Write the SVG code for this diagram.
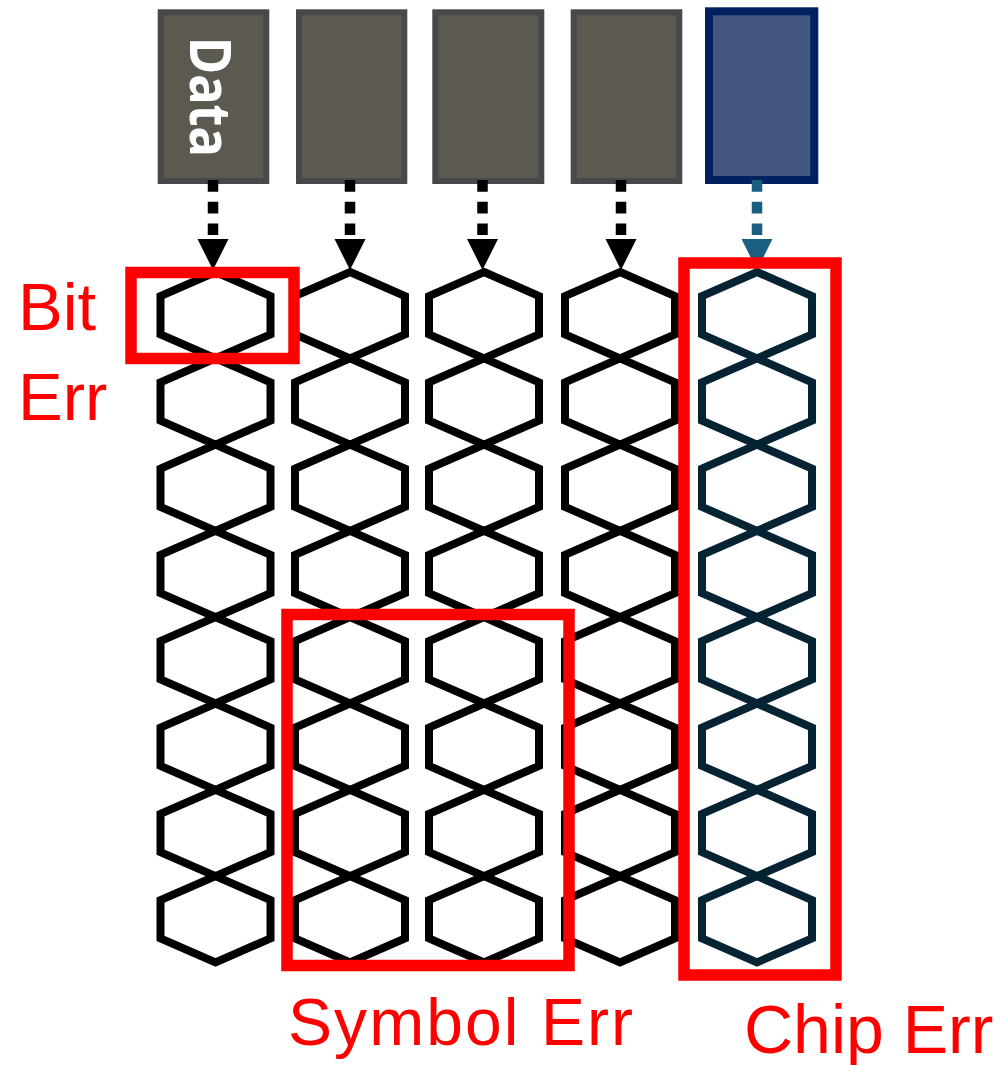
<svg xmlns="http://www.w3.org/2000/svg" xmlns:xlink="http://www.w3.org/1999/xlink" width="1005" height="1065" viewBox="0 0 1005 1065">
<style>
.box{fill:#5b5950;stroke:#484848;stroke-width:6}
.boxb{fill:#43567e;stroke:#002060;stroke-width:8}
.dash{stroke-width:10.5;stroke-dasharray:11.7 10;fill:none}
.hx{fill:none;stroke-width:8;stroke-linejoin:miter}
.err{fill:none;stroke:#ff0000;stroke-width:11.5}
.lbl{font-family:"Liberation Sans",Arial,sans-serif;fill:#ff0000}
.data{font-family:"Noto Sans","DejaVu Sans",sans-serif;font-weight:700;font-size:58px;fill:#ffffff}
</style>
<defs>
<polygon id="hex" points="0,0 55,24 55,62.3 0,86.3 -55,62.3 -55,24"/>
</defs>
<rect width="1005" height="1065" fill="#ffffff"/>
<g id="chip1"><rect class="box" x="160.7" y="12.3" width="105.6" height="168.7"/>
<text class="data" x="37" y="-190" transform="rotate(90)" textLength="120" lengthAdjust="spacingAndGlyphs">Data</text></g>
<g id="chip2"><rect class="box" x="299" y="12.3" width="105.3" height="168.7"/></g>
<g id="chip3"><rect class="box" x="435.3" y="12.3" width="106" height="168.7"/></g>
<g id="chip4"><rect class="box" x="573.7" y="12.3" width="105.6" height="168.7"/></g>
<g id="chip5"><rect class="boxb" x="709" y="11.3" width="105.3" height="168.7"/></g>
<g id="connectors">
<line class="dash" x1="213" y1="180" x2="213" y2="236" stroke="#000"/>
<polygon points="197.5,239 228.5,239 213,270" fill="#000"/>
<line class="dash" x1="350" y1="180" x2="350" y2="236" stroke="#000"/>
<polygon points="334.5,239 365.5,239 350,270" fill="#000"/>
<line class="dash" x1="482.5" y1="180" x2="482.5" y2="236" stroke="#000"/>
<polygon points="467,239 498,239 482.5,270" fill="#000"/>
<line class="dash" x1="621" y1="180" x2="621" y2="236" stroke="#000"/>
<polygon points="605.5,239 636.5,239 621,270" fill="#000"/>
<line class="dash" x1="757" y1="180" x2="757" y2="236" stroke="#1a5f80"/>
<polygon points="741.5,239 772.5,239 757,270" fill="#1a5f80"/>
</g>
<g id="col1" class="hx" stroke="#000">
<use xlink:href="#hex" href="#hex" x="215.5" y="272"/>
<use xlink:href="#hex" href="#hex" x="215.5" y="358.3"/>
<use xlink:href="#hex" href="#hex" x="215.5" y="444.6"/>
<use xlink:href="#hex" href="#hex" x="215.5" y="530.9"/>
<use xlink:href="#hex" href="#hex" x="215.5" y="617.2"/>
<use xlink:href="#hex" href="#hex" x="215.5" y="703.5"/>
<use xlink:href="#hex" href="#hex" x="215.5" y="789.8"/>
<use xlink:href="#hex" href="#hex" x="215.5" y="876.1"/>
</g>
<g id="col2" class="hx" stroke="#000">
<use xlink:href="#hex" href="#hex" x="350" y="272"/>
<use xlink:href="#hex" href="#hex" x="350" y="358.3"/>
<use xlink:href="#hex" href="#hex" x="350" y="444.6"/>
<use xlink:href="#hex" href="#hex" x="350" y="530.9"/>
<use xlink:href="#hex" href="#hex" x="350" y="617.2"/>
<use xlink:href="#hex" href="#hex" x="350" y="703.5"/>
<use xlink:href="#hex" href="#hex" x="350" y="789.8"/>
<use xlink:href="#hex" href="#hex" x="350" y="876.1"/>
</g>
<g id="col3" class="hx" stroke="#000">
<use xlink:href="#hex" href="#hex" x="484" y="272"/>
<use xlink:href="#hex" href="#hex" x="484" y="358.3"/>
<use xlink:href="#hex" href="#hex" x="484" y="444.6"/>
<use xlink:href="#hex" href="#hex" x="484" y="530.9"/>
<use xlink:href="#hex" href="#hex" x="484" y="617.2"/>
<use xlink:href="#hex" href="#hex" x="484" y="703.5"/>
<use xlink:href="#hex" href="#hex" x="484" y="789.8"/>
<use xlink:href="#hex" href="#hex" x="484" y="876.1"/>
</g>
<g id="col4" class="hx" stroke="#000">
<use xlink:href="#hex" href="#hex" x="620" y="272"/>
<use xlink:href="#hex" href="#hex" x="620" y="358.3"/>
<use xlink:href="#hex" href="#hex" x="620" y="444.6"/>
<use xlink:href="#hex" href="#hex" x="620" y="530.9"/>
<use xlink:href="#hex" href="#hex" x="620" y="617.2"/>
<use xlink:href="#hex" href="#hex" x="620" y="703.5"/>
<use xlink:href="#hex" href="#hex" x="620" y="789.8"/>
<use xlink:href="#hex" href="#hex" x="620" y="876.1"/>
</g>
<g id="col5" class="hx" stroke="#062333">
<use xlink:href="#hex" href="#hex" x="757" y="272"/>
<use xlink:href="#hex" href="#hex" x="757" y="358.3"/>
<use xlink:href="#hex" href="#hex" x="757" y="444.6"/>
<use xlink:href="#hex" href="#hex" x="757" y="530.9"/>
<use xlink:href="#hex" href="#hex" x="757" y="617.2"/>
<use xlink:href="#hex" href="#hex" x="757" y="703.5"/>
<use xlink:href="#hex" href="#hex" x="757" y="789.8"/>
<use xlink:href="#hex" href="#hex" x="757" y="876.1"/>
</g>
<g id="bit-err"><rect class="err" x="131" y="272.5" width="163" height="86"/>
<text class="lbl" x="18" y="330" font-size="67">Bit</text>
<text class="lbl" x="18" y="420" font-size="67">Err</text></g>
<g id="symbol-err"><rect class="err" x="287" y="614.5" width="282" height="351"/>
<text class="lbl" x="288" y="1045" font-size="66" textLength="345" lengthAdjust="spacing">Symbol Err</text></g>
<g id="chip-err"><rect class="err" x="684" y="263" width="152" height="712"/>
<text class="lbl" x="744" y="1053" font-size="68">Chip Err</text></g>
</svg>
